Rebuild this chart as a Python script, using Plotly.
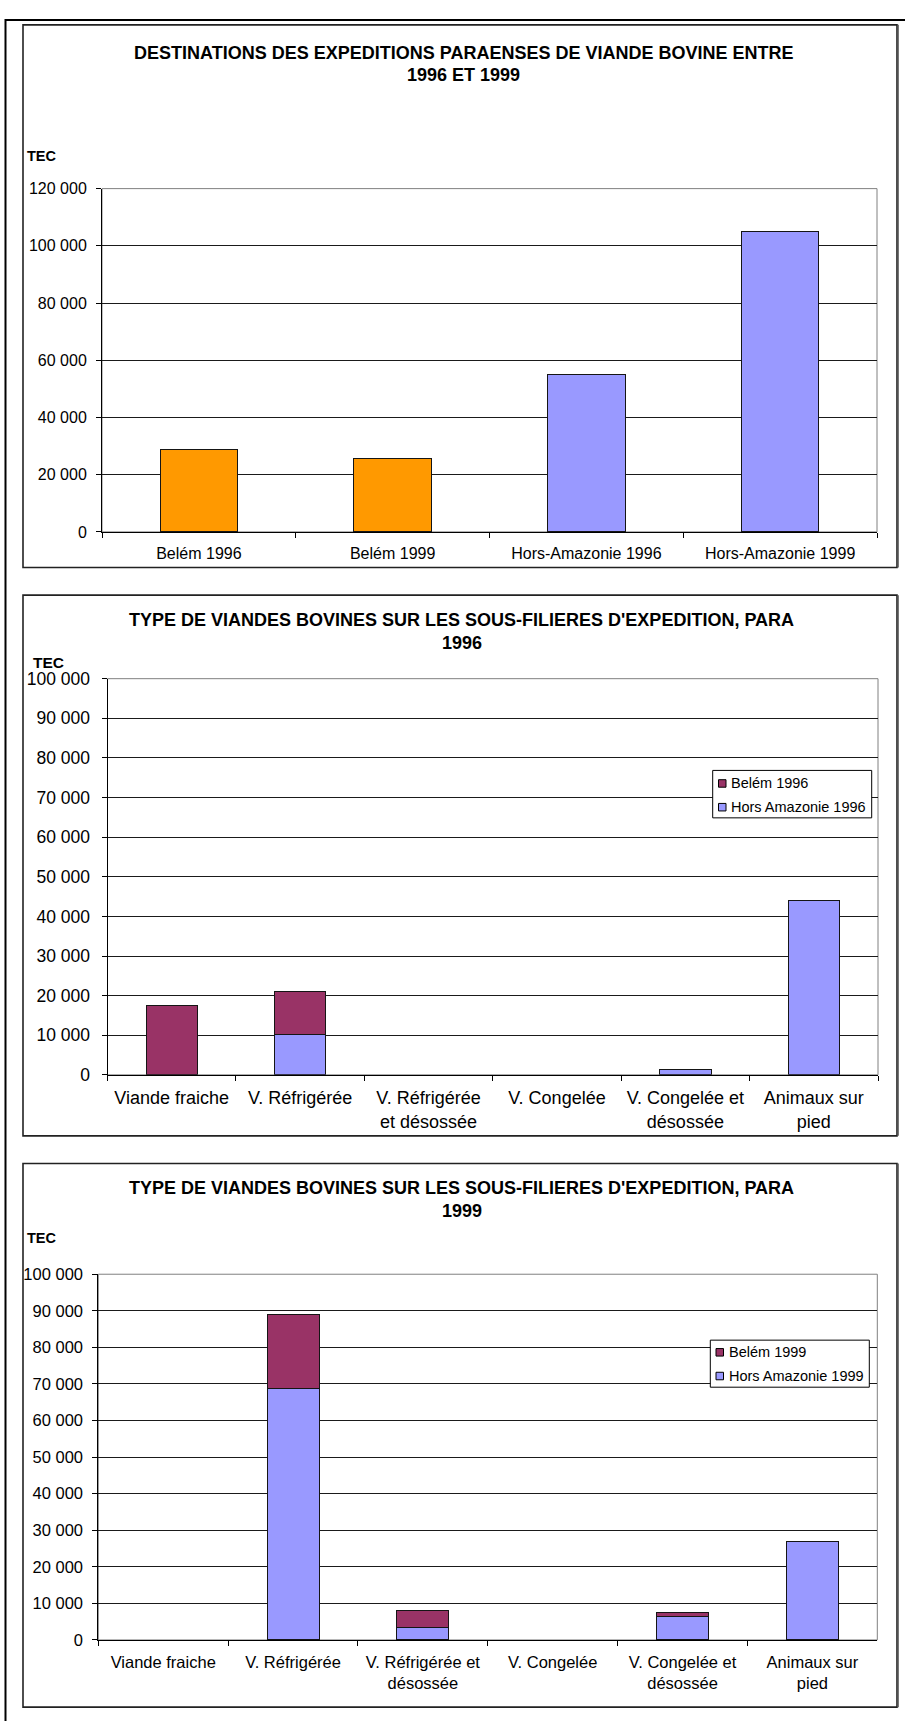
import plotly.graph_objects as go

W, H = 905, 1731

# ---------------- data ----------------
# Chart 1: destinations
dest_categories = ["Belém 1996", "Belém 1999", "Hors-Amazonie 1996", "Hors-Amazonie 1999"]
dest_values = [28700, 25800, 54900, 105000]

# Chart 2: types 1996
types_1996 = ["Viande fraiche", "V. Réfrigérée", "V. Réfrigérée<br>et désossée",
              "V. Congelée", "V. Congelée et<br>désossée", "Animaux sur<br>pied"]
belem_1996 = [17400, 10800, 0, 0, 100, 0]
hors_1996 = [0, 10200, 0, 0, 1300, 44000]

# Chart 3: types 1999
types_1999 = ["Viande fraiche", "V. Réfrigérée", "V. Réfrigérée et<br>désossée",
              "V. Congelée", "V. Congelée et<br>désossée", "Animaux sur<br>pied"]
belem_1999 = [0, 20200, 4700, 0, 1000, 0]
hors_1999 = [0, 68800, 3300, 0, 6400, 26800]

series_names_1996 = ["Belém 1996", "Hors Amazonie 1996"]
series_names_1999 = ["Belém 1999", "Hors Amazonie 1999"]

title_1 = ["DESTINATIONS DES EXPEDITIONS PARAENSES DE VIANDE BOVINE ENTRE", "1996 ET 1999"]
title_2 = ["TYPE DE VIANDES BOVINES SUR LES SOUS-FILIERES D'EXPEDITION, PARA", "1996"]
title_3 = ["TYPE DE VIANDES BOVINES SUR LES SOUS-FILIERES D'EXPEDITION, PARA", "1999"]
unit_label = "TEC"

# ---------------- styles ----------------
ORANGE = "#FF9900"
BLUE = "#9999FF"
MAROON = "#993366"
EDGE = "#151515"
FONT = "Liberation Sans, Arial, sans-serif"


def xp(p):
    return p / W


def yp(p):
    return 1 - p / H


def edge_widths(vals):
    return [1 if v else 0 for v in vals]


fig = go.Figure()

# Chart 1
dest_colors = [ORANGE if c.startswith("Belém") else BLUE for c in dest_categories]
fig.add_trace(go.Bar(x=dest_categories, y=dest_values,
                     marker=dict(color=dest_colors, line=dict(color=EDGE, width=1)),
                     xaxis="x", yaxis="y", showlegend=False))

# Chart 2
fig.add_trace(go.Bar(x=types_1996, y=hors_1996, name=series_names_1996[1],
                     marker=dict(color=BLUE, line=dict(color=EDGE, width=edge_widths(hors_1996))),
                     xaxis="x2", yaxis="y2", showlegend=False))
fig.add_trace(go.Bar(x=types_1996, y=belem_1996, name=series_names_1996[0],
                     marker=dict(color=MAROON, line=dict(color=EDGE, width=edge_widths(belem_1996))),
                     xaxis="x2", yaxis="y2", showlegend=False))

# Chart 3
fig.add_trace(go.Bar(x=types_1999, y=hors_1999, name=series_names_1999[1],
                     marker=dict(color=BLUE, line=dict(color=EDGE, width=edge_widths(hors_1999))),
                     xaxis="x3", yaxis="y3", showlegend=False))
fig.add_trace(go.Bar(x=types_1999, y=belem_1999, name=series_names_1999[0],
                     marker=dict(color=MAROON, line=dict(color=EDGE, width=edge_widths(belem_1999))),
                     xaxis="x3", yaxis="y3", showlegend=False))


def xaxis_cfg(domain, anchor, size, standoff):
    return dict(domain=domain, anchor=anchor, type="category", tickson="boundaries",
                ticks="outside", ticklen=5, tickcolor="black", tickwidth=1,
                showline=True, linecolor="black", linewidth=1, showgrid=False,
                ticklabelstandoff=standoff,
                tickfont=dict(size=size, color="black", family=FONT), fixedrange=True)


def yaxis_cfg(domain, anchor, rng, dtick, size, standoff):
    return dict(domain=domain, anchor=anchor, range=rng, dtick=dtick, tickformat=",d",
                ticks="outside", ticklen=5, tickcolor="black", tickwidth=1,
                showline=True, linecolor="black", linewidth=1, showgrid=True,
                gridcolor="#1a1a1a", gridwidth=1, zeroline=False, ticklabelstandoff=standoff,
                tickfont=dict(size=size, color="black", family=FONT), fixedrange=True)


plot1 = dict(x0=102, x1=877, y0=180.7, y1=528)
plot2 = dict(x0=107.5, x1=878, y0=676.5, y1=1077.3)
plot3 = dict(x0=98.3, x1=877.3, y0=1279, y1=1649)

shapes = []
annotations = []

# outer frame (left and top)
shapes.append(dict(type="path", xref="paper", yref="paper",
                   path=f"M {xp(5.5)} {yp(1731)} L {xp(5.5)} {yp(10)} L {xp(905)} {yp(10)}",
                   line=dict(color="black", width=2), layer="above"))

# chart boxes
for (y0, y1) in [(15, 564), (592, 1139), (1167, 1717)]:
    shapes.append(dict(type="rect", xref="paper", yref="paper",
                       x0=xp(23), x1=xp(897), y0=yp(y1), y1=yp(y0),
                       line=dict(color="#222222", width=1.6), layer="below"))
    shapes.append(dict(type="line", xref="paper", yref="paper",
                       x0=xp(898.2), x1=xp(898.2), y0=yp(y1), y1=yp(y0),
                       line=dict(color="#555555", width=1.2), layer="below"))

# plot area borders
for ax in ["", "2", "3"]:
    shapes.append(dict(type="rect", xref=f"x{ax} domain", yref=f"y{ax} domain",
                       x0=0, x1=1, y0=0, y1=1, line=dict(color="#808080", width=1),
                       layer="below"))

# titles (each line placed separately)
title_font = dict(family=FONT, size=18, color="black")
for lines, cx, ys in [(title_1, 463, (43, 66)), (title_2, 462, (617, 640)), (title_3, 462, (1192, 1215))]:
    for txt, y in zip(lines, ys):
        annotations.append(dict(text=f"<b>{txt}</b>", x=xp(cx), y=yp(y), xref="paper", yref="paper",
                                showarrow=False, xanchor="center", yanchor="middle", font=title_font))

# unit labels
for (x, y, s) in [(25, 148, 14.5), (31, 660, 15.5), (25, 1242, 14.5)]:
    annotations.append(dict(text=f"<b>{unit_label}</b>", x=xp(x), y=yp(y), xref="paper", yref="paper",
                            showarrow=False, xanchor="left", yanchor="middle",
                            font=dict(family=FONT, size=s, color="black")))


# legends (chart 2 and chart 3)
def add_legend(box, names, colors, sw_x, sw_ys, txt_x):
    bx0, bx1, by0, by1 = box
    shapes.append(dict(type="rect", xref="paper", yref="paper", x0=xp(bx0), x1=xp(bx1),
                       y0=yp(by1), y1=yp(by0), line=dict(color="black", width=1),
                       fillcolor="white", layer="above"))
    for name, col, sy in zip(names, colors, sw_ys):
        shapes.append(dict(type="rect", xref="paper", yref="paper", x0=xp(sw_x), x1=xp(sw_x + 7.5),
                           y0=yp(sy + 3.8), y1=yp(sy - 3.8), line=dict(color="black", width=1),
                           fillcolor=col, layer="above"))
        annotations.append(dict(text=name, x=xp(txt_x), y=yp(sy), xref="paper", yref="paper",
                                showarrow=False, xanchor="left", yanchor="middle",
                                font=dict(family=FONT, size=14.5, color="black")))


add_legend((712.7, 871.7, 769.3, 817.3), series_names_1996, [MAROON, BLUE], 718.5, [782.5, 806.5], 729)
add_legend((710.3, 869.3, 1345.7, 1393.3), series_names_1999, [MAROON, BLUE], 716, [1358, 1382], 727)

fig.update_layout(
    width=W, height=H, autosize=False,
    margin=dict(l=0, r=0, t=0, b=0),
    paper_bgcolor="white", plot_bgcolor="white",
    barmode="stack", bargap=0.6,
    separators=", ",
    font=dict(family=FONT, color="black"),
    showlegend=False,
    xaxis=xaxis_cfg([xp(plot1["x0"]), xp(plot1["x1"])], "y", 16, 7),
    yaxis=yaxis_cfg([yp(plot1["y1"]), yp(plot1["y0"])], "x", [0, 120000], 20000, 16, 6),
    xaxis2=xaxis_cfg([xp(plot2["x0"]), xp(plot2["x1"])], "y2", 18, 7),
    yaxis2=yaxis_cfg([yp(plot2["y1"]), yp(plot2["y0"])], "x2", [0, 100000], 10000, 17.5, 8),
    xaxis3=xaxis_cfg([xp(plot3["x0"]), xp(plot3["x1"])], "y3", 16.5, 7),
    yaxis3=yaxis_cfg([yp(plot3["y1"]), yp(plot3["y0"])], "x3", [0, 100000], 10000, 16.5, 6),
    shapes=shapes,
    annotations=annotations,
)

fig.write_html("out.html", config={"displayModeBar": False},
               post_script="document.documentElement.style.margin='0px';"
                           "document.body.style.margin='0px';document.body.style.padding='0px';"
                           "document.body.style.overflow='hidden';")
